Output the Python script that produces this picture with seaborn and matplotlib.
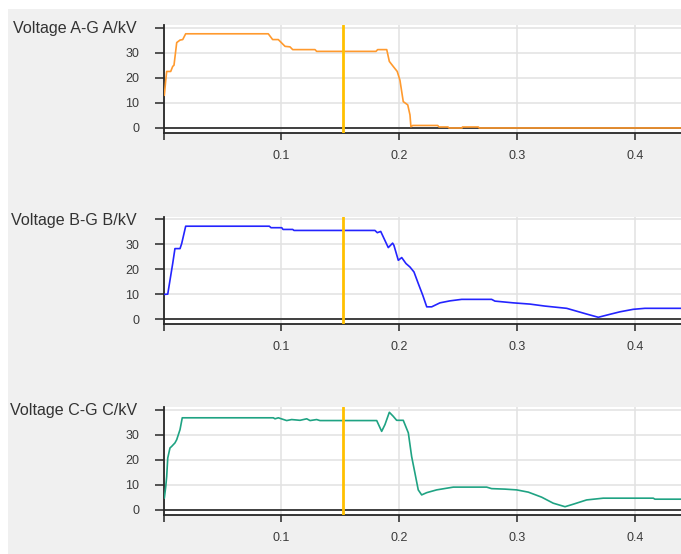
import matplotlib
matplotlib.use("Agg")
import matplotlib.pyplot as plt
from matplotlib.patches import Rectangle
import seaborn as sns
import pandas as pd

# Phase-to-ground voltage traces (time in s, voltage in kV)
time_a = [0.0007, 0.0019, 0.0027, 0.0061, 0.0078, 0.0089, 0.0112, 0.0140, 0.0163, 0.0188,
          0.0888, 0.0925, 0.0973, 0.1030, 0.1072, 0.1095, 0.1284, 0.1298, 0.1801, 0.1815,
          0.1892, 0.1914, 0.1947, 0.1981, 0.2004, 0.2032, 0.2070, 0.2089, 0.2097, 0.2112,
          0.2324, 0.2335, 0.2411, 0.2420, 0.2530, 0.2534, 0.2669, 0.2675, 0.4400]
volt_a = [13.0, 19.0, 22.5, 22.5, 24.5, 25.0, 34.0, 35.0, 35.2, 37.5,
          37.5, 35.2, 35.2, 32.5, 32.3, 31.2, 31.2, 30.5, 30.5, 31.2,
          31.2, 26.5, 24.5, 22.5, 19.0, 10.5, 9.2, 5.2, 0.5, 1.0,
          1.0, 0.4, 0.4, 0.0, 0.0, 0.4, 0.4, 0.0, 0.0]

time_b = [0.0007, 0.0036, 0.0055, 0.0078, 0.0097, 0.0140, 0.0154, 0.0188, 0.0897, 0.0911,
          0.1002, 0.1013, 0.1095, 0.1106, 0.1792, 0.1812, 0.1841, 0.1905, 0.1942, 0.1953,
          0.1990, 0.2019, 0.2055, 0.2089, 0.2123, 0.2159, 0.2197, 0.2231, 0.2273, 0.2343,
          0.2428, 0.2527, 0.2781, 0.2809, 0.2964, 0.3106, 0.3233, 0.3417, 0.3586, 0.3685,
          0.3784, 0.3869, 0.3981, 0.4080, 0.4400]
volt_b = [9.9, 10.0, 15.6, 22.3, 28.3, 28.3, 30.3, 37.3, 37.3, 36.7,
          36.7, 36.0, 36.0, 35.6, 35.6, 34.7, 35.2, 28.7, 30.5, 29.6,
          23.6, 24.7, 22.3, 20.9, 18.9, 14.3, 9.6, 4.9, 4.9, 6.5,
          7.3, 7.9, 7.9, 7.2, 6.5, 6.0, 5.2, 4.3, 2.0, 0.7,
          1.9, 2.9, 3.9, 4.3, 4.3]

time_c = [0.0007, 0.0019, 0.0027, 0.0036, 0.0055, 0.0069, 0.0097, 0.0112, 0.0140, 0.0159,
          0.0931, 0.0945, 0.0973, 0.1044, 0.1086, 0.1157, 0.1214, 0.1242, 0.1298, 0.1326,
          0.1807, 0.1849, 0.1877, 0.1914, 0.1947, 0.1976, 0.2032, 0.2075, 0.2103, 0.2131,
          0.2159, 0.2188, 0.2231, 0.2315, 0.2456, 0.2739, 0.2781, 0.2894, 0.2993, 0.3092,
          0.3205, 0.3303, 0.3403, 0.3473, 0.3586, 0.3727, 0.4151, 0.4165, 0.4400]
volt_c = [4.7, 9.3, 13.3, 20.7, 24.7, 25.3, 26.7, 28.0, 32.0, 36.7,
          36.7, 36.3, 36.7, 35.6, 36.0, 35.7, 36.3, 35.6, 36.0, 35.6,
          35.6, 31.3, 34.0, 38.9, 37.3, 35.7, 35.7, 30.7, 21.3, 14.7,
          8.0, 6.0, 6.9, 8.0, 9.1, 9.1, 8.5, 8.3, 8.0, 7.1,
          5.1, 2.7, 1.3, 2.3, 4.0, 4.7, 4.7, 4.3, 4.3]

titles = ["Voltage A-G A/kV", "Voltage B-G B/kV", "Voltage C-G C/kV"]
colors = ["#FF9A2E", "#2424FF", "#1FA383"]
cursor_time = 0.1525

y_ticks = [0, 10, 20, 30, 40]
y_tick_labels = ["0", "10", "20", "30", ""]
x_ticks = [0.0, 0.1, 0.2, 0.3, 0.4]
x_tick_labels = ["", "0.1", "0.2", "0.3", "0.4"]

sns.set_theme(style="white")
plt.rcParams["font.family"] = ["Liberation Sans", "DejaVu Sans"]

W, H = 681, 554
fig = plt.figure(figsize=(W / 100, H / 100), dpi=100, facecolor="white")
# grey panel behind the plots, leaving a thin white margin on top and left
fig.add_artist(Rectangle((8 / W, 0), 1, 1 - 9 / H, transform=fig.transFigure,
                         facecolor="#F0F0F0", edgecolor="none", zorder=-1))

# axes boxes in pixels: (top, bottom)
boxes = [(25, 133), (217, 324), (407, 515)]
left_px = 163.5

traces = [(time_a, volt_a), (time_b, volt_b), (time_c, volt_c)]
ink = "#262626"

for (top, bottom), (t, v), title, col in zip(boxes, traces, titles, colors):
    ax = fig.add_axes([left_px / W, 1 - bottom / H, 1 - left_px / W, (bottom - top) / H])
    ax.set_facecolor("white")
    ax.set_xlim(0, 0.4386)
    ax.set_ylim(-2, 41)

    ax.grid(True, color="#E2E2E2", linewidth=1.1)
    ax.set_axisbelow(True)
    ax.axhline(0, color="#333333", linewidth=1.3, zorder=1.5)

    df = pd.DataFrame({"time": t, "voltage": v})
    sns.lineplot(data=df, x="time", y="voltage", ax=ax, color=col, linewidth=1.2,
                 estimator=None, sort=False, zorder=3)
    ax.axvline(cursor_time, color="#FFC000", linewidth=2.0, zorder=4)

    ax.set_xticks(x_ticks)
    ax.set_xticklabels(x_tick_labels)
    ax.set_yticks(y_ticks)
    ax.set_yticklabels(y_tick_labels)
    ax.set_xlabel("")
    ax.set_ylabel("")
    ax.tick_params(axis="x", direction="out", length=5, width=1.1, color=ink,
                   pad=7, labelsize=9, labelcolor="#3A3A3A", bottom=True)
    ax.tick_params(axis="y", direction="out", length=6.5, width=1.1, color=ink,
                   pad=11, labelsize=9, labelcolor="#3A3A3A", left=True)

    for side in ("top", "right"):
        ax.spines[side].set_visible(False)
    for side in ("left", "bottom"):
        ax.spines[side].set_color(ink)
        ax.spines[side].set_linewidth(1.3)

    fig.text(137 / W, 1 - (top + 3) / H, title, ha="right", va="center",
             fontsize=11.6, color="#333333")

fig.savefig("out.png", dpi=100, facecolor=fig.get_facecolor())
